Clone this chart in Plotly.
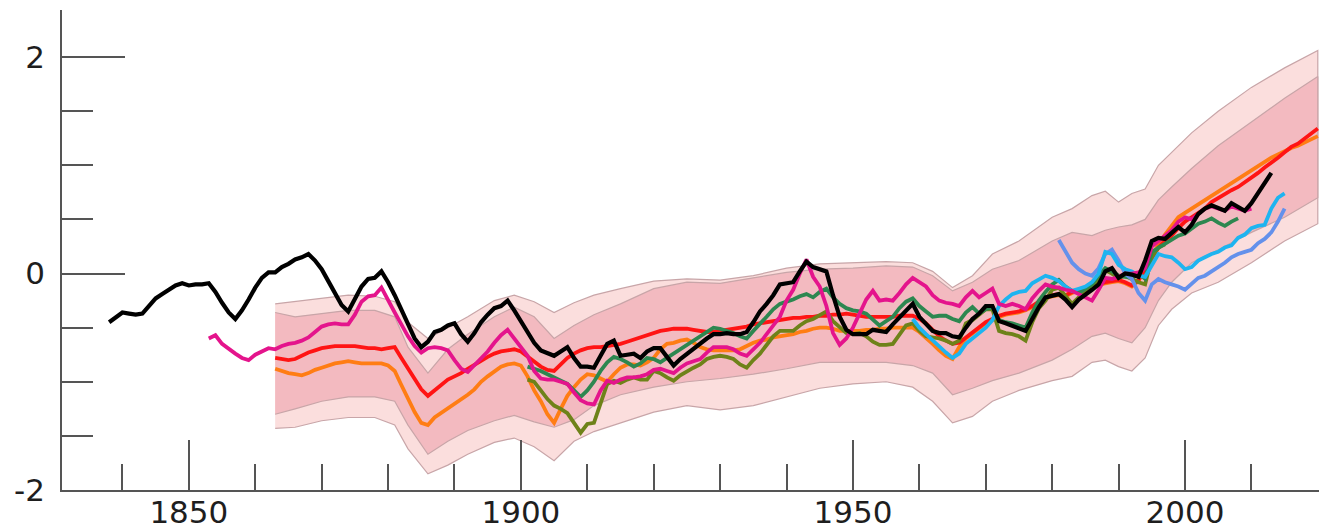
import plotly.graph_objects as go

# ---------------- data ----------------
black_years = list(range(1838, 2014))
black_vals = [-0.45, -0.40, -0.36, -0.37, -0.38, -0.37, -0.30, -0.23, -0.19, -0.15,
              -0.11, -0.09, -0.11, -0.10, -0.10, -0.09, -0.17, -0.27, -0.36, -0.42,
              -0.34, -0.24, -0.13, -0.04, 0.01, 0.01, 0.06, 0.09, 0.13, 0.15,
              0.18, 0.12, 0.04, -0.07, -0.18, -0.29, -0.35, -0.24, -0.12, -0.05,
              -0.04, 0.02, -0.08, -0.20, -0.33, -0.47, -0.60, -0.68, -0.63, -0.54,
              -0.52, -0.48, -0.46, -0.56, -0.63, -0.55, -0.45, -0.38, -0.32, -0.30,
              -0.25, -0.34, -0.44, -0.55, -0.64, -0.71, -0.73, -0.76, -0.72, -0.68,
              -0.78, -0.86, -0.86, -0.87, -0.76, -0.65, -0.62, -0.76, -0.75, -0.74,
              -0.78, -0.72, -0.69, -0.69, -0.77, -0.85, -0.79, -0.74, -0.70, -0.65,
              -0.60, -0.56, -0.56, -0.55, -0.56, -0.56, -0.54, -0.45, -0.35, -0.28,
              -0.20, -0.10, -0.09, -0.08, 0.02, 0.11, 0.06, 0.04, 0.02, -0.20,
              -0.40, -0.52, -0.56, -0.56, -0.56, -0.52, -0.53, -0.54, -0.47, -0.41,
              -0.34, -0.28, -0.40, -0.46, -0.53, -0.55, -0.55, -0.58, -0.59, -0.50,
              -0.42, -0.37, -0.30, -0.30, -0.44, -0.46, -0.48, -0.50, -0.53, -0.42,
              -0.31, -0.22, -0.20, -0.19, -0.24, -0.31, -0.24, -0.20, -0.15, -0.10,
              0.02, 0.05, -0.04, 0.00, -0.01, -0.03, 0.12, 0.30, 0.33, 0.32,
              0.38, 0.43, 0.38, 0.45, 0.55, 0.60, 0.63, 0.60, 0.58, 0.65,
              0.62, 0.58, 0.65, 0.74, 0.84, 0.93]

magenta_years = list(range(1853, 2011))
magenta_vals = [-0.60, -0.57, -0.65, -0.70, -0.74, -0.78, -0.80, -0.75, -0.72, -0.69,
                -0.70, -0.67, -0.65, -0.64, -0.62, -0.59, -0.54, -0.49, -0.47, -0.46,
                -0.47, -0.47, -0.38, -0.26, -0.21, -0.20, -0.13, -0.25, -0.36, -0.47,
                -0.58, -0.67, -0.73, -0.69, -0.68, -0.69, -0.71, -0.80, -0.88, -0.91,
                -0.85, -0.78, -0.72, -0.64, -0.57, -0.52, -0.60, -0.68, -0.76, -0.90,
                -0.97, -0.98, -0.98, -1.00, -1.02, -1.10, -1.17, -1.20, -1.21, -1.08,
                -0.99, -1.01, -0.98, -0.96, -0.96, -0.95, -0.93, -0.89, -0.88, -0.90,
                -0.92, -0.87, -0.83, -0.81, -0.79, -0.73, -0.68, -0.68, -0.68, -0.70,
                -0.74, -0.76, -0.70, -0.64, -0.56, -0.48, -0.40, -0.25, -0.15, 0.00,
                0.13, -0.03, -0.12, -0.30, -0.55, -0.66, -0.60, -0.50, -0.36, -0.24,
                -0.16, -0.25, -0.24, -0.25, -0.18, -0.10, -0.04, -0.08, -0.12, -0.20,
                -0.25, -0.27, -0.28, -0.30, -0.22, -0.16, -0.22, -0.18, -0.14, -0.28,
                -0.30, -0.28, -0.30, -0.33, -0.23, -0.16, -0.10, -0.12, -0.13, -0.15,
                -0.16, -0.19, -0.22, -0.25, -0.15, -0.04, -0.05, -0.03, 0.00, 0.00,
                0.01, 0.05, 0.25, 0.30, 0.34, 0.40, 0.48, 0.52, 0.50, 0.55,
                0.60, 0.62, 0.60, 0.58, 0.62, 0.60, 0.58, 0.60]

red_years = list(range(1863, 2021))
red_vals = [-0.78, -0.79, -0.80, -0.79, -0.76, -0.73, -0.71, -0.69, -0.68, -0.67,
            -0.67, -0.67, -0.67, -0.68, -0.69, -0.69, -0.70, -0.69, -0.68, -0.78,
            -0.88, -0.98, -1.07, -1.13, -1.08, -1.02, -0.98, -0.95, -0.92, -0.88,
            -0.84, -0.80, -0.77, -0.74, -0.72, -0.71, -0.70, -0.72, -0.77, -0.82,
            -0.86, -0.89, -0.90, -0.84, -0.78, -0.74, -0.71, -0.69, -0.68, -0.68,
            -0.67, -0.66, -0.65, -0.63, -0.61, -0.59, -0.57, -0.55, -0.53, -0.52,
            -0.51, -0.51, -0.51, -0.52, -0.53, -0.54, -0.54, -0.53, -0.52, -0.51,
            -0.50, -0.49, -0.47, -0.46, -0.45, -0.44, -0.43, -0.42, -0.41, -0.41,
            -0.40, -0.40, -0.39, -0.39, -0.38, -0.38, -0.37, -0.38, -0.39, -0.40,
            -0.40, -0.40, -0.40, -0.40, -0.39, -0.39, -0.39, -0.42, -0.46, -0.52,
            -0.58, -0.62, -0.65, -0.64, -0.59, -0.54, -0.49, -0.45, -0.42, -0.39,
            -0.37, -0.36, -0.35, -0.33, -0.30, -0.26, -0.22, -0.20, -0.19, -0.20,
            -0.17, -0.15, -0.14, -0.12, -0.10, -0.08, -0.07, -0.06, -0.08, -0.11,
            -0.06, 0.04, 0.14, 0.24, 0.30, 0.35, 0.42, 0.48, 0.52, 0.56,
            0.60, 0.66, 0.70, 0.74, 0.77, 0.80, 0.84, 0.88, 0.93, 0.98,
            1.02, 1.07, 1.12, 1.17, 1.20, 1.25, 1.30, 1.34]

orange_years = list(range(1863, 2021))
orange_vals = [-0.88, -0.90, -0.92, -0.93, -0.94, -0.92, -0.89, -0.87, -0.85, -0.83,
               -0.82, -0.81, -0.82, -0.83, -0.83, -0.83, -0.83, -0.85, -0.90, -1.03,
               -1.16, -1.28, -1.38, -1.40, -1.33, -1.29, -1.25, -1.20, -1.16, -1.12,
               -1.07, -1.00, -0.95, -0.90, -0.86, -0.84, -0.83, -0.85, -0.95, -1.08,
               -1.18, -1.30, -1.38, -1.25, -1.13, -1.05, -0.98, -0.93, -0.94, -0.97,
               -1.00, -0.93, -0.87, -0.84, -0.84, -0.85, -0.82, -0.78, -0.70, -0.65,
               -0.64, -0.62, -0.61, -0.64, -0.68, -0.70, -0.71, -0.71, -0.71, -0.71,
               -0.70, -0.67, -0.64, -0.62, -0.61, -0.59, -0.58, -0.57, -0.56, -0.54,
               -0.53, -0.51, -0.50, -0.50, -0.51, -0.53, -0.53, -0.53, -0.53, -0.52,
               -0.52, -0.51, -0.51, -0.50, -0.50, -0.50, -0.50, -0.54, -0.59, -0.65,
               -0.71, -0.76, -0.79, -0.68, -0.60, -0.55, -0.50, -0.46, -0.43, -0.40,
               -0.38, -0.37, -0.36, -0.34, -0.31, -0.27, -0.23, -0.21, -0.20, -0.21,
               -0.18, -0.16, -0.15, -0.13, -0.11, -0.09, -0.08, -0.07, -0.09, -0.12,
               -0.07, 0.04, 0.16, 0.27, 0.36, 0.44, 0.52, 0.56, 0.60, 0.64,
               0.68, 0.72, 0.76, 0.80, 0.84, 0.88, 0.92, 0.96, 1.00, 1.04,
               1.07, 1.10, 1.13, 1.16, 1.18, 1.21, 1.24, 1.27]

green_years = list(range(1901, 2009))
green_vals = [-0.86, -0.88, -0.90, -0.93, -0.96, -0.99, -1.02, -1.08, -1.14, -1.08,
              -1.00, -0.90, -0.82, -0.77, -0.79, -0.82, -0.86, -0.83, -0.78, -0.79,
              -0.82, -0.78, -0.74, -0.70, -0.66, -0.61, -0.57, -0.54, -0.50, -0.51,
              -0.53, -0.55, -0.58, -0.60, -0.53, -0.47, -0.40, -0.33, -0.28, -0.26,
              -0.24, -0.21, -0.19, -0.22, -0.17, -0.14, -0.22, -0.28, -0.32, -0.34,
              -0.35, -0.37, -0.42, -0.48, -0.44, -0.40, -0.32, -0.26, -0.23, -0.30,
              -0.35, -0.40, -0.39, -0.39, -0.42, -0.44, -0.36, -0.31, -0.37, -0.33,
              -0.31, -0.43, -0.45, -0.46, -0.48, -0.50, -0.36, -0.25, -0.17, -0.10,
              -0.06, -0.12, -0.16, -0.18, -0.14, -0.10, -0.02, 0.05, 0.02, -0.02,
              -0.03, -0.04, 0.00, -0.05, 0.20, 0.24, 0.28, 0.31, 0.35, 0.37,
              0.42, 0.46, 0.48, 0.51, 0.47, 0.44, 0.48, 0.51]

olive_years = list(range(1901, 1998))
olive_vals = [-0.98, -1.00, -1.08, -1.16, -1.22, -1.25, -1.29, -1.38, -1.47, -1.39,
              -1.38, -1.20, -1.02, -0.99, -1.01, -0.98, -0.96, -0.98, -0.98, -0.90,
              -0.92, -0.96, -0.99, -0.94, -0.90, -0.87, -0.84, -0.79, -0.77, -0.76,
              -0.77, -0.79, -0.84, -0.87, -0.80, -0.74, -0.66, -0.58, -0.53, -0.53,
              -0.53, -0.48, -0.44, -0.42, -0.38, -0.35, -0.44, -0.50, -0.55, -0.56,
              -0.55, -0.58, -0.63, -0.66, -0.66, -0.65, -0.56, -0.48, -0.46, -0.53,
              -0.58, -0.59, -0.60, -0.62, -0.65, -0.62, -0.46, -0.43, -0.38, -0.33,
              -0.33, -0.53, -0.55, -0.56, -0.58, -0.62, -0.45, -0.32, -0.25, -0.15,
              -0.13, -0.20, -0.28, -0.22, -0.16, -0.12, -0.06, 0.03, 0.00, -0.04,
              -0.02, -0.05, -0.08, -0.10, 0.15, 0.24, 0.27]

cyan_years = list(range(1959, 2016))
cyan_vals = [-0.42, -0.50, -0.56, -0.62, -0.68, -0.73, -0.78, -0.74, -0.65, -0.60,
             -0.56, -0.50, -0.43, -0.30, -0.24, -0.19, -0.17, -0.16, -0.09, -0.05,
             -0.02, -0.04, -0.07, -0.12, -0.16, -0.14, -0.12, -0.08, 0.00, 0.20,
             0.18, 0.08, 0.04, 0.02, -0.02, -0.03, 0.08, 0.18, 0.16, 0.15,
             0.10, 0.04, 0.06, 0.12, 0.15, 0.18, 0.20, 0.24, 0.26, 0.33,
             0.36, 0.42, 0.44, 0.45, 0.60, 0.70, 0.74]

blue_years = list(range(1981, 2016))
blue_vals = [0.31, 0.20, 0.10, 0.04, 0.00, -0.02, 0.05, 0.18, 0.22, 0.12,
             0.00, -0.05, -0.18, -0.25, -0.10, -0.05, -0.08, -0.10, -0.12, -0.15,
             -0.10, -0.04, -0.02, 0.02, 0.05, 0.10, 0.15, 0.18, 0.20, 0.22,
             0.28, 0.32, 0.38, 0.48, 0.60]

band_years = [1863, 1866, 1870, 1874, 1878, 1881, 1883, 1886, 1889, 1892,
              1896, 1899, 1902, 1905, 1908, 1911, 1915, 1920, 1925, 1930,
              1935, 1940, 1945, 1950, 1955, 1959, 1962, 1965, 1968, 1971,
              1975, 1980, 1983, 1986, 1988, 1990, 1992, 1994, 1996, 1998,
              2001, 2005, 2010, 2015, 2020]
outer_top = [-0.28, -0.26, -0.23, -0.20, -0.21, -0.26, -0.45, -0.60, -0.50, -0.40,
             -0.25, -0.20, -0.26, -0.36, -0.27, -0.20, -0.14, -0.07, -0.05, -0.06,
             -0.02, 0.05, 0.09, 0.10, 0.11, 0.10, 0.02, -0.13, -0.02, 0.18,
             0.30, 0.52, 0.60, 0.72, 0.76, 0.66, 0.74, 0.78, 1.00, 1.12,
             1.30, 1.50, 1.72, 1.90, 2.06]
inner_top = [-0.36, -0.40, -0.37, -0.34, -0.34, -0.40, -0.68, -0.92, -0.70, -0.56,
             -0.40, -0.31, -0.40, -0.60, -0.48, -0.38, -0.28, -0.14, -0.08, -0.09,
             -0.04, 0.01, 0.04, 0.05, 0.07, 0.06, -0.02, -0.16, -0.08, 0.04,
             0.12, 0.30, 0.38, 0.35, 0.40, 0.43, 0.45, 0.50, 0.68, 0.80,
             0.97, 1.18, 1.40, 1.62, 1.82]
inner_bottom = [-1.30, -1.25, -1.18, -1.14, -1.14, -1.18, -1.40, -1.67, -1.55, -1.45,
                -1.36, -1.31, -1.37, -1.42, -1.35, -1.22, -1.12, -1.05, -1.00, -0.97,
                -0.93, -0.88, -0.82, -0.82, -0.82, -0.85, -0.92, -1.12, -1.06, -0.99,
                -0.92, -0.80, -0.70, -0.58, -0.55, -0.60, -0.64, -0.50, -0.25, -0.08,
                0.10, 0.22, 0.38, 0.52, 0.70]
outer_bottom = [-1.43, -1.42, -1.36, -1.33, -1.33, -1.40, -1.62, -1.85, -1.77, -1.67,
                -1.56, -1.52, -1.60, -1.73, -1.55, -1.46, -1.38, -1.28, -1.22, -1.26,
                -1.22, -1.14, -1.06, -1.02, -1.00, -1.05, -1.18, -1.38, -1.32, -1.18,
                -1.08, -0.99, -0.95, -0.82, -0.80, -0.86, -0.90, -0.78, -0.48, -0.33,
                -0.18, -0.08, 0.10, 0.30, 0.46]

x_major = [1850, 1900, 1950, 2000]
x_minor = [1840, 1860, 1870, 1880, 1890, 1910, 1920, 1930, 1940, 1960, 1970, 1980, 1990, 2010]
y_major = [-2, 0, 2]
y_major_text = ["-2", "0", "2"]
y_minor = [-1.5, -1, -0.5, 0.5, 1, 1.5]

# ---------------- figure ----------------
fig = go.Figure()

edge = "rgb(200,165,168)"


def band(top, bottom, fill):
    fig.add_trace(go.Scatter(
        x=band_years + band_years[::-1],
        y=top + bottom[::-1],
        mode="lines", fill="toself", fillcolor=fill,
        line=dict(color=edge, width=1.2),
        hoverinfo="skip", showlegend=False))


band(outer_top, outer_bottom, "rgb(251,222,221)")
band(inner_top, inner_bottom, "rgb(243,186,192)")


def line(x, y, color, width=3.8):
    fig.add_trace(go.Scatter(x=x, y=y, mode="lines",
                             line=dict(color=color, width=width),
                             hoverinfo="skip", showlegend=False))


line(orange_years, orange_vals, "rgb(255,125,20)")
line(red_years, red_vals, "rgb(255,20,20)")
line(olive_years, olive_vals, "rgb(110,130,25)")
line(green_years, green_vals, "rgb(45,135,80)")
line(blue_years, blue_vals, "rgb(100,145,235)")
line(cyan_years, cyan_vals, "rgb(30,180,240)")
line(magenta_years, magenta_vals, "rgb(228,20,140)")
line(black_years, black_vals, "rgb(0,0,0)", 4.2)

axis_col = "#555555"
fig.update_layout(
    width=1319, height=529,
    margin=dict(l=62, r=0, t=10, b=39),
    paper_bgcolor="white", plot_bgcolor="white",
    showlegend=False,
    font=dict(family="DejaVu Sans", size=31, color="#1e1e1e"),
    xaxis=dict(
        range=[1830.9, 2020.18],
        automargin=False,
        tickmode="array", tickvals=x_major,
        ticks="inside", ticklen=50, tickwidth=1.6, tickcolor=axis_col,
        showline=True, linecolor=axis_col, linewidth=1.6,
        showgrid=False, zeroline=False,
        ticklabelstandoff=-6,
        minor=dict(tickmode="array", tickvals=x_minor, ticks="inside",
                   ticklen=26, tickwidth=1.6, tickcolor=axis_col, showgrid=False),
    ),
    yaxis=dict(
        range=[-2, 2.435],
        automargin=False,
        tickmode="array", tickvals=y_major, ticktext=y_major_text,
        ticks="inside", ticklen=63, tickwidth=1.6, tickcolor=axis_col,
        showline=True, linecolor=axis_col, linewidth=1.6,
        showgrid=False, zeroline=False,
        ticklabelstandoff=9,
        minor=dict(tickmode="array", tickvals=y_minor, ticks="inside",
                   ticklen=31, tickwidth=1.6, tickcolor=axis_col, showgrid=False),
    ),
)

fig.write_html("out.html")
